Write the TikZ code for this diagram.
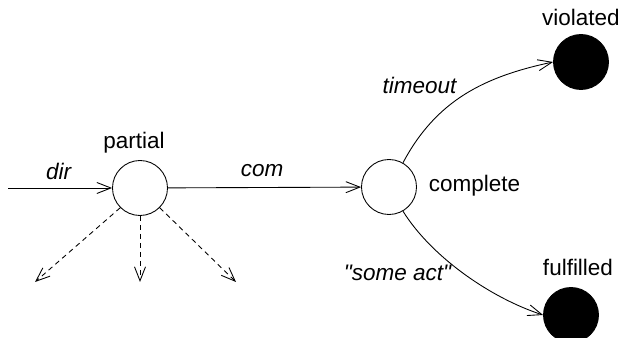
\documentclass[tikz,border=0pt]{standalone}
\usepackage{fontspec}
\setmainfont{Liberation Sans}
\usetikzlibrary{arrows.meta}

\tikzset{
  state/.style={circle, draw, line width=0.5pt, minimum size=1.1cm, inner sep=0pt},
  final/.style={state, fill=black},
  trans/.style={line width=0.5pt, -{Straight Barb[length=2.8mm, width=2.2mm]}},
  lbl/.style={font=\fontsize{12.8}{14}\selectfont, inner sep=1pt},
  act/.style={lbl, font=\fontsize{12.8}{14}\selectfont\itshape}
}

\begin{document}
\begin{tikzpicture}
        \useasboundingbox (0,0) rectangle (12.44,6.76);

        % States
        \node[state] (partial) at (2.80,3.00) {};
        \node[state] (complete) at (7.78,3.02) {};
        \node[final] (violated) at (11.62,5.52) {};
        \node[final] (fulfilled) at (11.42,0.46) {};

        % State names
        \node[lbl] (partiallbl) at (2.68,3.90) {partial};
        \node[lbl] (completelbl) at (9.49,3.04) {complete};
        \node[lbl] (violatedlbl) at (11.62,6.42) {violated};
        \node[lbl] (fulfilledlbl) at (11.56,1.41) {fulfilled};

        % Free ends
        \coordinate (start) at (0.16,3.00);
        \coordinate (outl) at (0.70,1.12);
        \coordinate (outm) at (2.80,1.12);
        \coordinate (outr) at (4.72,1.12);

        % Transitions
        \draw[trans] (start) -- (partial);
        \draw[trans] (partial) -- (complete);
        \draw[trans] (complete.60) to[out=62, in=192] (violated.west);
        \draw[trans] (complete.-60) to[out=-58, in=162, looseness=0.8] (fulfilled.west);
        \draw[trans, dash pattern=on 1mm off 0.8mm] (partial.-135) -- (outl);
        \draw[trans, dash pattern=on 1mm off 0.8mm] (partial.south) -- (outm);
        \draw[trans, dash pattern=on 1mm off 0.8mm] (partial.-45) -- (outr);

        % Transition labels
        \node[act] (dir) at (1.17,3.34) {dir};
        \node[act] (com) at (5.24,3.34) {com};
        \node[act] (timeout) at (8.39,5.06) {timeout};
        \node[act] (someact) at (7.95,1.30) {\textquotedbl some act\textquotedbl};
    \end{tikzpicture}
\end{document}
